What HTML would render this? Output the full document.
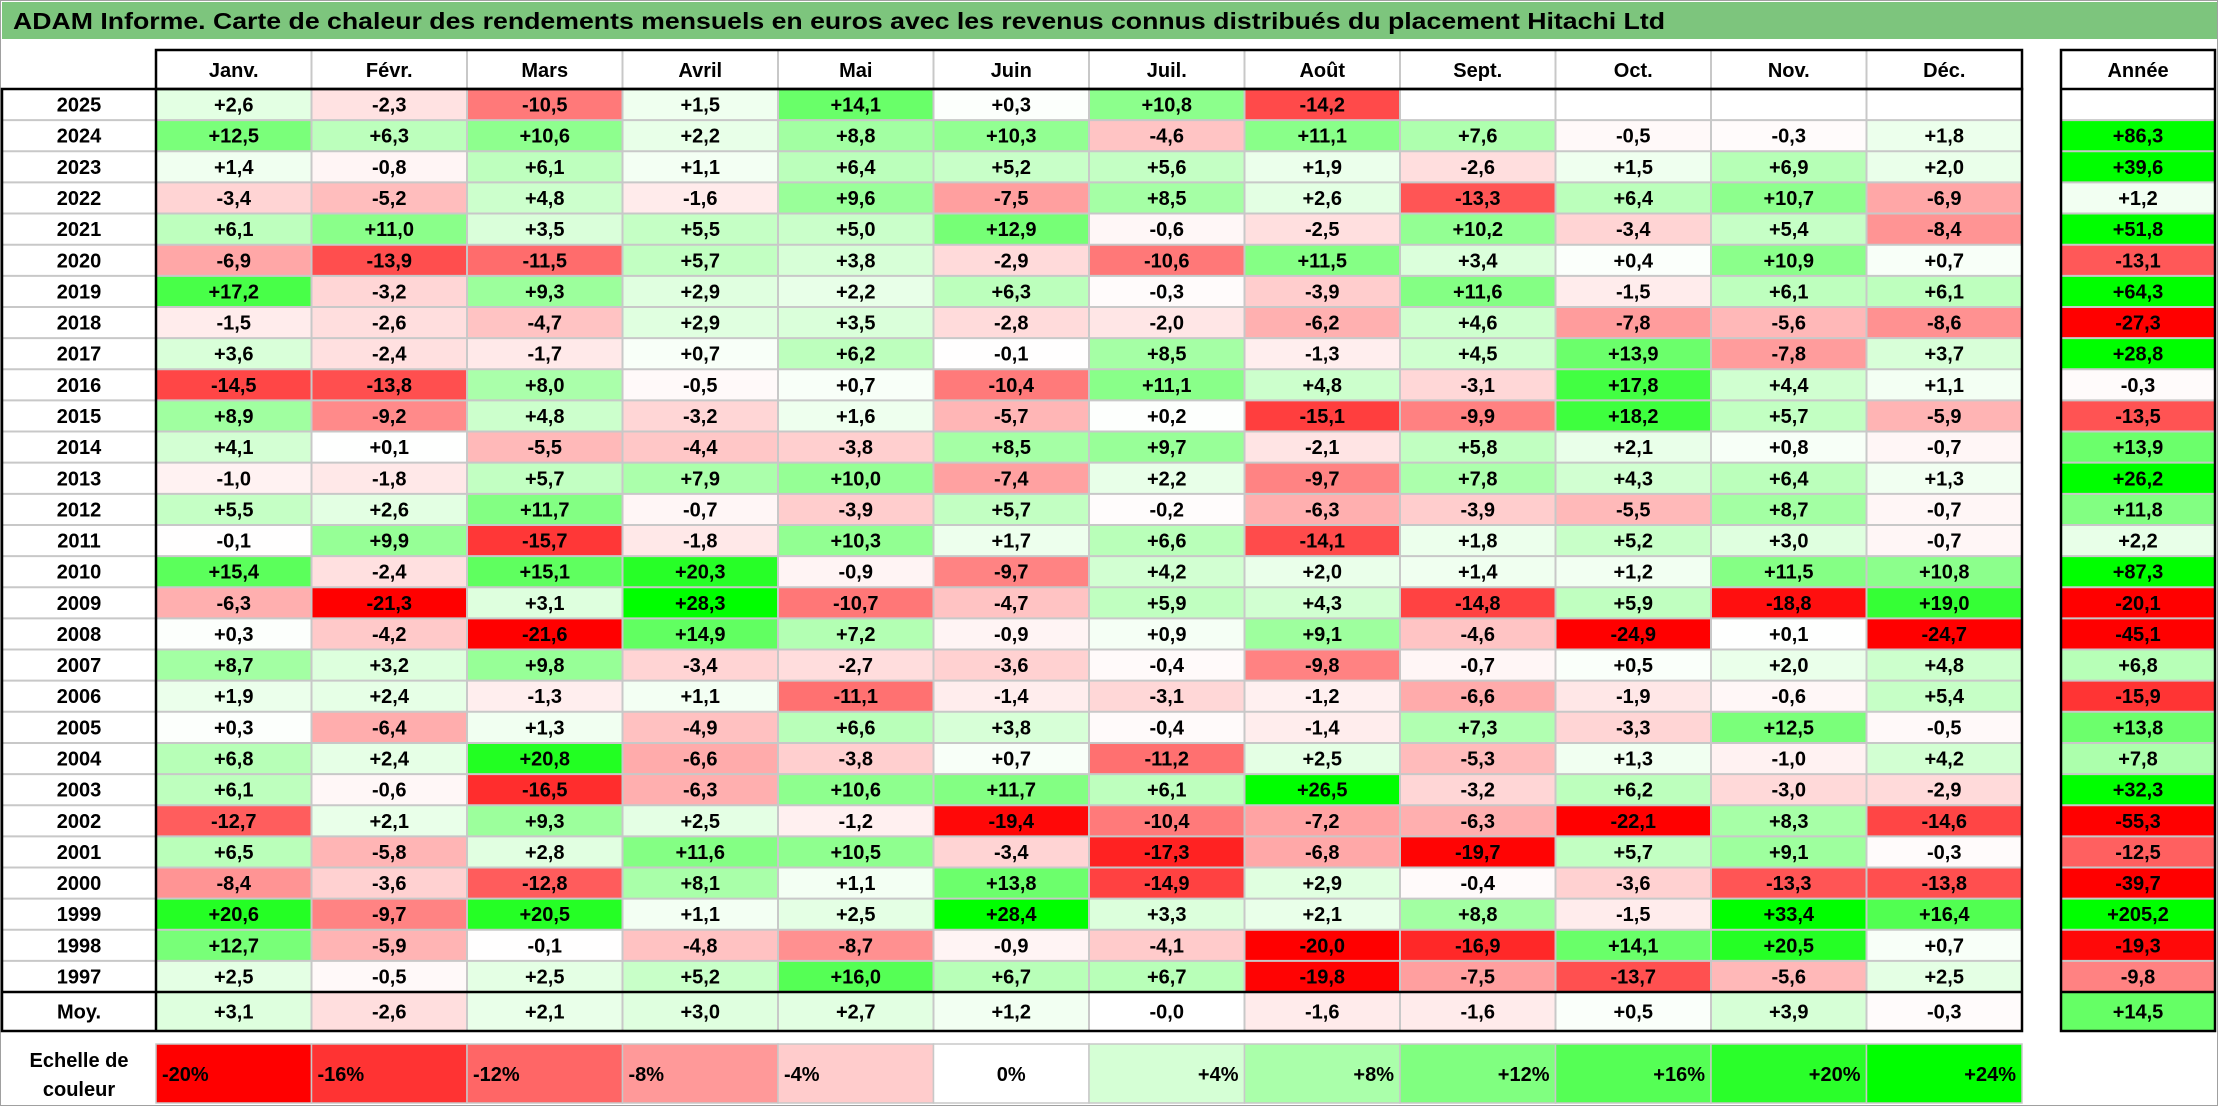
<!DOCTYPE html>
<html><head><meta charset="utf-8"><style>
html,body{margin:0;padding:0;background:#fff}
svg{display:block}
text{font-family:"Liberation Sans",sans-serif;font-weight:bold;fill:#000}
</style></head><body>
<svg id="chart" width="2218" height="1106" viewBox="0 0 2218 1106" xmlns="http://www.w3.org/2000/svg">
<rect x="0.5" y="0.5" width="2217" height="1105" fill="#fff" stroke="#a0a0a0"/>
<rect x="2" y="2" width="2215" height="37" fill="#7dc57d"/>
<text x="13" y="29" font-size="23" textLength="1652" lengthAdjust="spacingAndGlyphs">ADAM Informe. Carte de chaleur des rendements mensuels en euros avec les revenus connus distribués du placement Hitachi Ltd</text>
<g id="cells"></g>
<g id="lines"></g>
<g id="labels"></g>
</svg>
<script>
const months = ["Janv.","Févr.","Mars","Avril","Mai","Juin","Juil.","Août","Sept.","Oct.","Nov.","Déc."];
const years = ["2025","2024","2023","2022","2021","2020","2019","2018","2017","2016","2015","2014","2013","2012","2011","2010","2009","2008","2007","2006","2005","2004","2003","2002","2001","2000","1999","1998","1997"];
const returns = [
[2.6,-2.3,-10.5,1.5,14.1,0.3,10.8,-14.2,null,null,null,null],
[12.5,6.3,10.6,2.2,8.8,10.3,-4.6,11.1,7.6,-0.5,-0.3,1.8],
[1.4,-0.8,6.1,1.1,6.4,5.2,5.6,1.9,-2.6,1.5,6.9,2.0],
[-3.4,-5.2,4.8,-1.6,9.6,-7.5,8.5,2.6,-13.3,6.4,10.7,-6.9],
[6.1,11.0,3.5,5.5,5.0,12.9,-0.6,-2.5,10.2,-3.4,5.4,-8.4],
[-6.9,-13.9,-11.5,5.7,3.8,-2.9,-10.6,11.5,3.4,0.4,10.9,0.7],
[17.2,-3.2,9.3,2.9,2.2,6.3,-0.3,-3.9,11.6,-1.5,6.1,6.1],
[-1.5,-2.6,-4.7,2.9,3.5,-2.8,-2.0,-6.2,4.6,-7.8,-5.6,-8.6],
[3.6,-2.4,-1.7,0.7,6.2,-0.1,8.5,-1.3,4.5,13.9,-7.8,3.7],
[-14.5,-13.8,8.0,-0.5,0.7,-10.4,11.1,4.8,-3.1,17.8,4.4,1.1],
[8.9,-9.2,4.8,-3.2,1.6,-5.7,0.2,-15.1,-9.9,18.2,5.7,-5.9],
[4.1,0.1,-5.5,-4.4,-3.8,8.5,9.7,-2.1,5.8,2.1,0.8,-0.7],
[-1.0,-1.8,5.7,7.9,10.0,-7.4,2.2,-9.7,7.8,4.3,6.4,1.3],
[5.5,2.6,11.7,-0.7,-3.9,5.7,-0.2,-6.3,-3.9,-5.5,8.7,-0.7],
[-0.1,9.9,-15.7,-1.8,10.3,1.7,6.6,-14.1,1.8,5.2,3.0,-0.7],
[15.4,-2.4,15.1,20.3,-0.9,-9.7,4.2,2.0,1.4,1.2,11.5,10.8],
[-6.3,-21.3,3.1,28.3,-10.7,-4.7,5.9,4.3,-14.8,5.9,-18.8,19.0],
[0.3,-4.2,-21.6,14.9,7.2,-0.9,0.9,9.1,-4.6,-24.9,0.1,-24.7],
[8.7,3.2,9.8,-3.4,-2.7,-3.6,-0.4,-9.8,-0.7,0.5,2.0,4.8],
[1.9,2.4,-1.3,1.1,-11.1,-1.4,-3.1,-1.2,-6.6,-1.9,-0.6,5.4],
[0.3,-6.4,1.3,-4.9,6.6,3.8,-0.4,-1.4,7.3,-3.3,12.5,-0.5],
[6.8,2.4,20.8,-6.6,-3.8,0.7,-11.2,2.5,-5.3,1.3,-1.0,4.2],
[6.1,-0.6,-16.5,-6.3,10.6,11.7,6.1,26.5,-3.2,6.2,-3.0,-2.9],
[-12.7,2.1,9.3,2.5,-1.2,-19.4,-10.4,-7.2,-6.3,-22.1,8.3,-14.6],
[6.5,-5.8,2.8,11.6,10.5,-3.4,-17.3,-6.8,-19.7,5.7,9.1,-0.3],
[-8.4,-3.6,-12.8,8.1,1.1,13.8,-14.9,2.9,-0.4,-3.6,-13.3,-13.8],
[20.6,-9.7,20.5,1.1,2.5,28.4,3.3,2.1,8.8,-1.5,33.4,16.4],
[12.7,-5.9,-0.1,-4.8,-8.7,-0.9,-4.1,-20.0,-16.9,14.1,20.5,0.7],
[2.5,-0.5,2.5,5.2,16.0,6.7,6.7,-19.8,-7.5,-13.7,-5.6,2.5]
];
const annual = [null,86.3,39.6,1.2,51.8,-13.1,64.3,-27.3,28.8,-0.3,-13.5,13.9,26.2,11.8,2.2,87.3,-20.1,-45.1,6.8,-15.9,13.8,7.8,32.3,-55.3,-12.5,-39.7,205.2,-19.3,-9.8];
const averages = [3.1,-2.6,2.1,3.0,2.7,1.2,-0,-1.6,-1.6,0.5,3.9,-0.3];
const averageAnnual = 14.5;
const scaleSteps = [-20,-16,-12,-8,-4,0,4,8,12,16,20,24];

const NS="http://www.w3.org/2000/svg";
const X0=156, CW=155.5, Y0=89, RH=31.14, AX=2061, AW=154;
const colX = i => X0 + i*CW;
const rowY = r => Y0 + r*RH;
const moyTop = rowY(years.length), moyBot = 1031;
function color(v){
  if(v===null) return "#ffffff";
  if(v<0){const t=Math.min(1,-v/20);const g=Math.round(255*(1-t));return `rgb(255,${g},${g})`;}
  const t=Math.min(1,v/24);const g=Math.round(255*(1-t));return `rgb(${g},255,${g})`;
}
function fmt(v){const neg=v<0||Object.is(v,-0);return (neg?"-":"+")+Math.abs(v).toFixed(1).replace(".",",");}
const cells=document.getElementById("cells"), lines=document.getElementById("lines"), labels=document.getElementById("labels");
function mk(tag,attrs,parent){const e=document.createElementNS(NS,tag);for(const k in attrs)e.setAttribute(k,attrs[k]);parent.appendChild(e);return e;}
function txt(x,y,s,anchor,size){const t=mk("text",{x:x,y:y,"text-anchor":anchor||"middle","font-size":size||20},labels);t.textContent=s;return t;}

// header
months.forEach((m,i)=>{
  const t=txt(colX(i)+CW/2,Y0-12,m);
  
  
});
const ah=txt(AX+AW/2,Y0-12,"Année");



// body
years.forEach((y,r)=>{
  const yt=rowY(r);
  const lt=txt(79,yt+RH/2+7,y);
  
  
  returns[r].forEach((v,i)=>{
    const rc=mk("rect",{x:colX(i),y:yt,width:CW,height:RH,fill:color(v)},cells);
    
    
    if(v!==null){const t=txt(colX(i)+CW/2,yt+RH/2+7,fmt(v));
      
      }
  });
  const a=annual[r];
  const ar=mk("rect",{x:AX,y:yt,width:AW,height:RH,fill:color(a)},cells);
  
  
  if(a!==null){const t=txt(AX+AW/2,yt+RH/2+7,fmt(a));
    
    }
  if(r>0){mk("line",{x1:2,x2:2022,y1:yt,y2:yt,stroke:"#c8c8c8","stroke-width":2},lines);
          mk("line",{x1:AX,x2:AX+AW,y1:yt,y2:yt,stroke:"#c8c8c8","stroke-width":2},lines);}
});
// averages
const ml=txt(79,moyTop+(moyBot-moyTop)/2+7,"Moy.");


averages.forEach((v,i)=>{
  const rc=mk("rect",{x:colX(i),y:moyTop,width:CW,height:moyBot-moyTop,fill:color(v)},cells);
  
  
  const t=txt(colX(i)+CW/2,moyTop+(moyBot-moyTop)/2+7,fmt(v));
  
  
});
const amr=mk("rect",{x:AX,y:moyTop,width:AW,height:moyBot-moyTop,fill:color(averageAnnual)},cells);


const amt=txt(AX+AW/2,moyTop+(moyBot-moyTop)/2+7,fmt(averageAnnual));


// vertical grid
for(let i=1;i<12;i++) mk("line",{x1:colX(i),x2:colX(i),y1:Y0-39,y2:moyBot,stroke:"#c8c8c8","stroke-width":2},lines);
// black borders
const B={stroke:"#000","stroke-width":2.5,fill:"none"};
mk("rect",Object.assign({x:X0,y:50,width:12*CW,height:Y0-50},B),lines);
mk("rect",Object.assign({x:2,y:Y0,width:colX(12)-2,height:moyBot-Y0},B),lines);
mk("line",Object.assign({x1:X0,x2:X0,y1:Y0,y2:moyBot},B),lines);
mk("line",Object.assign({x1:2,x2:colX(12),y1:moyTop,y2:moyTop},B),lines);
mk("rect",Object.assign({x:AX,y:50,width:AW,height:moyBot-50},B),lines);
mk("line",Object.assign({x1:AX,x2:AX+AW,y1:Y0,y2:Y0},B),lines);
mk("line",Object.assign({x1:AX,x2:AX+AW,y1:moyTop,y2:moyTop},B),lines);
// scale
const s1=txt(79,1067,"Echelle de");


const s2=txt(79,1096,"couleur");


scaleSteps.forEach((v,i)=>{
  const rc=mk("rect",{x:colX(i),y:1044,width:CW,height:59,fill:color(v),stroke:"#c8c8c8","stroke-width":1.5},cells);
  
  
  let s,x,a;
  if(v<0){s=v+"%";x=colX(i)+6;a="start";}
  else if(v===0){s="0%";x=colX(i)+CW/2;a="middle";}
  else{s="+"+v+"%";x=colX(i)+CW-6;a="end";}
  const t=txt(x,1081,s,a);
  
  
});
</script>
</body></html>
